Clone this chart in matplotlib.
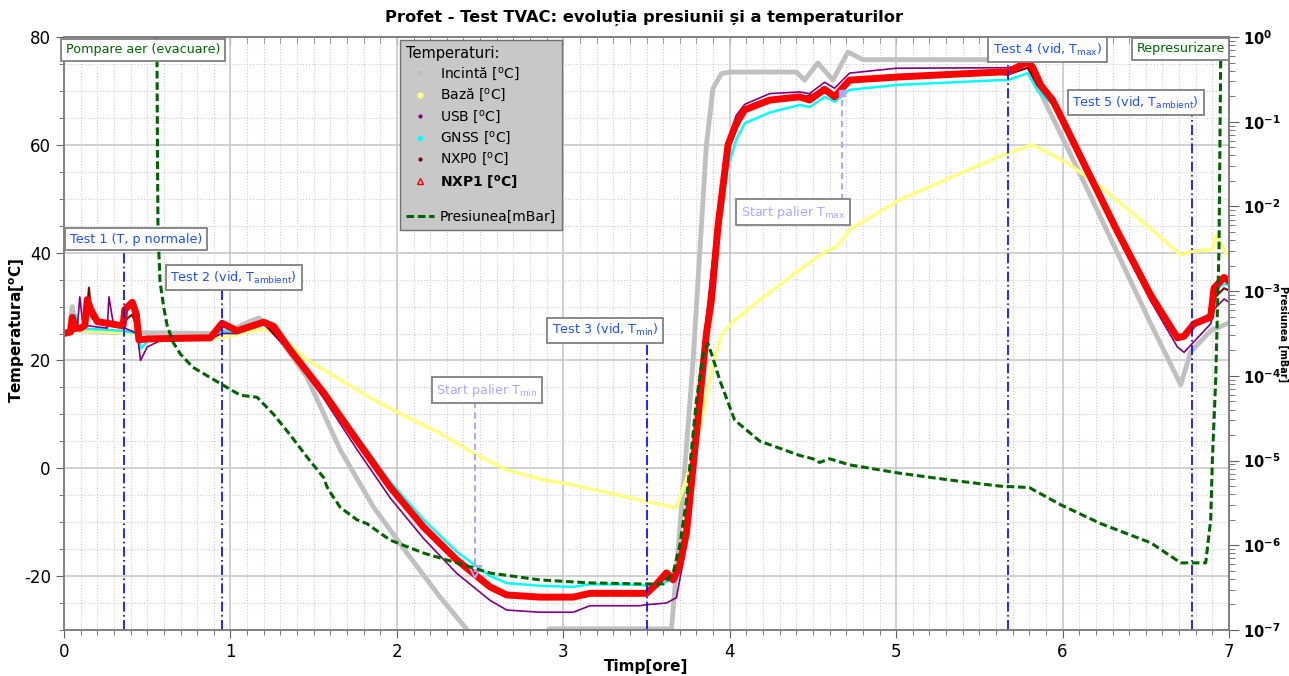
import numpy as np
import matplotlib.pyplot as plt
from matplotlib.lines import Line2D
from matplotlib.ticker import MultipleLocator, LogLocator, FixedLocator, FixedFormatter, NullFormatter

plt.rcParams['mathtext.default'] = 'regular'
plt.rcParams['axes.unicode_minus'] = False
plt.rcParams['font.family'] = ['DejaVu Sans']

# Incintă
t_inc = [0, 0.03, 0.05, 0.07, 0.1, 0.3, 0.88, 1.0, 1.1, 1.17, 1.26, 1.46, 1.66, 1.86, 2.06,
         2.26, 2.44, 2.6, 2.8, 2.92, 3.65, 3.69, 3.73, 3.78, 3.82, 3.86, 3.9, 3.95, 4.0, 4.4,
         4.45, 4.53, 4.62, 4.71, 4.8, 5.78, 5.88, 6.13, 6.33, 6.53, 6.71, 6.77, 6.89, 7.0]
T_inc = [25, 25.5, 30, 26, 25.5, 25.2, 25, 25.5, 27, 27.9, 25.6, 16.9, 3.4, -7.2, -15.7,
         -23.9, -30.6, -32.5, -32, -29.8, -29.8, -15, 0, 20, 40, 60, 70.5, 73.2, 73.5, 73.5,
         72, 75.2, 72, 77.2, 75.8, 75.8, 68.9, 53, 39.9, 26.8, 15.5, 21.6, 25.5, 27]

# Bază
t_baza = [0, 0.04, 0.07, 0.1, 0.44, 0.47, 0.9, 1.0, 1.1, 1.2, 1.3, 1.46, 1.66, 1.86, 2.06,
          2.26, 2.46, 2.66, 2.86, 3.06, 3.26, 3.46, 3.6, 3.68, 3.74, 3.82, 3.89, 3.95, 4.03,
          4.18, 4.42, 4.5, 4.58, 4.64, 4.72, 5.02, 5.43, 5.67, 5.82, 6.03, 6.23, 6.42, 6.71,
          6.79, 6.9, 6.92, 7.0]
T_baza = [25, 25.5, 28, 25.5, 25, 24, 24.2, 24.5, 25.3, 25.8, 24.5, 20.1, 16.4, 12.7, 9.5,
          6.5, 2.8, -0.3, -2.0, -3.1, -4.5, -5.9, -6.8, -7.3, -2, 7.1, 18.2, 24.7, 27.5,
          31.2, 36.8, 38.6, 40.3, 41, 44.2, 49.8, 55.3, 58.5, 60, 56.6, 52.2, 47.3, 39.6,
          40.3, 40.6, 43.2, 39]

# USB
t_usb = [0, 0.05, 0.08, 0.095, 0.11, 0.13, 0.2, 0.26, 0.27, 0.29, 0.3, 0.35, 0.44, 0.46,
         0.5, 0.6, 0.88, 0.95, 1.04, 1.2, 1.36, 1.56, 1.76, 1.96, 2.16, 2.36, 2.56, 2.66,
         2.86, 3.06, 3.16, 3.46, 3.5, 3.62, 3.68, 3.74, 3.8, 3.86, 3.93, 3.99, 4.04, 4.09,
         4.24, 4.42, 4.48, 4.57, 4.63, 4.72, 5.0, 5.62, 5.67, 5.79, 5.85, 5.94, 6.0, 6.13,
         6.33, 6.53, 6.69, 6.73, 6.79, 6.89, 6.91, 6.97, 7.0]
T_usb = [25, 25.5, 26, 31.8, 27.5, 26.5, 26.2, 26, 31.8, 28, 26.5, 26.2, 25, 20, 22.5, 24,
         24, 25, 25, 26.8, 21.5, 13, 3.5, -5.5, -13, -19.5, -24.5, -26.3, -26.7, -26.7,
         -25.5, -25.5, -25.3, -25, -24, -14, 5, 28, 48, 61, 65.5, 67.5, 69.5, 69.8, 69.5,
         71.6, 70.5, 73.3, 74.2, 74.3, 74.3, 74.8, 71, 67.5, 64, 55.5, 43, 31, 22.5, 21.5,
         23.5, 26.8, 29.5, 31.4, 30.8]

# GNSS
t_gnss = [0, 0.05, 0.07, 0.09, 0.12, 0.2, 0.35, 0.44, 0.46, 0.5, 0.6, 0.88, 0.95, 1.04,
          1.2, 1.36, 1.56, 1.76, 1.96, 2.16, 2.36, 2.56, 2.66, 2.86, 3.06, 3.16, 3.46, 3.5,
          3.6, 3.66, 3.74, 3.8, 3.86, 3.93, 3.99, 4.04, 4.09, 4.24, 4.42, 4.48, 4.57, 4.63,
          4.72, 5.0, 5.62, 5.67, 5.79, 5.85, 5.94, 6.0, 6.13, 6.33, 6.53, 6.69, 6.73, 6.79,
          6.89, 6.91, 6.97, 7.0]
T_gnss = [25, 25.5, 28.5, 26, 25.8, 25.8, 25.5, 25, 22.2, 23.5, 24, 24, 25.5, 25, 26.8,
          22.2, 14.5, 6, -2.5, -9.5, -15.5, -20, -21.3, -21.8, -22, -21.5, -21.6, -21.8,
          -21.3, -20.5, -12, 6.5, 25, 42, 56, 61, 64, 66, 67.4, 67, 68.9, 68, 70.2, 71.1, 72,
          72, 73.3, 70, 67.5, 64.5, 56.5, 44.3, 32.6, 24.9, 24.6, 27, 28.8, 33, 34.2, 34]

# NXP0
t_nxp0 = [0, 0.05, 0.1, 0.13, 0.15, 0.165, 0.2, 0.3, 0.355, 0.38, 0.41, 0.44, 0.46, 0.5,
          0.88, 0.95, 1.04, 1.2, 1.36, 1.56, 1.76, 1.96, 2.16, 2.36, 2.56, 2.66, 2.86, 3.06,
          3.16, 3.46, 3.5, 3.6, 3.66, 3.74, 3.8, 3.86, 3.93, 3.99, 4.09, 4.24, 4.42, 4.57,
          4.63, 4.72, 5.02, 5.62, 5.67, 5.79, 5.85, 5.94, 6.0, 6.13, 6.33, 6.53, 6.69, 6.73,
          6.79, 6.89, 6.91, 6.97, 7.0]
T_nxp0 = [25, 25.3, 26, 26.5, 33.5, 28, 27, 26.7, 26.4, 27.8, 28.5, 26, 24, 24, 24.2,
          26.5, 25.4, 27, 21.8, 13.8, 5, -3.7, -11.1, -17.2, -22.2, -23.7, -24.1, -24.1,
          -23.4, -23.4, -23.2, -20.5, -20.8, -12.2, 6.2, 24.7, 45, 59.5, 66.2, 68, 68.6,
          70, 68.6, 71.7, 72.3, 73.2, 73.0, 74.3, 71, 68, 64.3, 56.1, 43.6, 31.8, 23.9,
          24.2, 26.5, 27.6, 31.5, 33.4, 33]

# NXP1
t_nxp1 = [0, 0.04, 0.05, 0.07, 0.1, 0.125, 0.14, 0.16, 0.2, 0.28, 0.355, 0.365, 0.41,
          0.435, 0.45, 0.5, 0.88, 0.95, 1.04, 1.2, 1.26, 1.36, 1.56, 1.76, 1.96, 2.16, 2.36,
          2.56, 2.66, 2.86, 3.06, 3.16, 3.46, 3.5, 3.56, 3.62, 3.66, 3.7, 3.74, 3.8, 3.86,
          3.89, 3.93, 3.99, 4.04, 4.09, 4.24, 4.42, 4.48, 4.57, 4.63, 4.72, 5.02, 5.62,
          5.67, 5.79, 5.82, 5.87, 5.94, 6.0, 6.13, 6.33, 6.53, 6.69, 6.73, 6.79, 6.89,
          6.91, 6.97, 7.0]
T_nxp1 = [25, 25.3, 28, 26, 26, 26.5, 31.3, 29.5, 27.2, 26.8, 26.4, 29.4, 30.8, 28.5,
          23.8, 24.0, 24.2, 26.9, 25.5, 27.1, 26.3, 21.9, 14, 5.2, -3.5, -10.9, -17, -22,
          -23.5, -23.9, -23.9, -23.2, -23.2, -23.2, -21.5, -19.4, -20.7, -18, -12, 6.5, 25,
          31.2, 45, 60, 64, 66.5, 68.3, 68.9, 68.3, 70.3, 68.9, 72, 72.6, 73.5, 73.5, 75.4,
          74.4, 71, 68.3, 64.6, 56.4, 43.9, 32.1, 24.2, 24.5, 26.8, 28.1, 33.4, 35.4, 34.7]

# Presiunea [mBar]
t_pres = [0.553, 0.559, 0.562, 0.565, 0.577, 0.6, 0.619, 0.655, 0.7, 0.775, 0.94, 1.06,
          1.16, 1.26, 1.36, 1.46, 1.56, 1.58, 1.6, 1.66, 1.76, 1.82, 1.96, 2.16, 2.36,
          2.56, 2.86, 3.16, 3.46, 3.6, 3.66, 3.7, 3.74, 3.8, 3.84, 3.87, 3.9, 3.94, 4.03,
          4.18, 4.42, 4.5, 4.54, 4.6, 4.72, 5.02, 5.32, 5.62, 5.8, 5.99, 6.23, 6.53, 6.71,
          6.86, 6.89, 6.9, 6.92, 6.94, 6.95]
p_pres = [1.0, 0.5, 3.2e-2, 5.0e-3, 1.3e-3, 6.3e-4, 4.0e-4, 2.5e-4, 1.8e-4, 1.26e-4,
          8.1e-5, 5.9e-5, 5.6e-5, 3.5e-5, 2.0e-5, 1.1e-5, 6.3e-6, 4.9e-6, 4.2e-6, 2.8e-6,
          2.0e-6, 1.8e-6, 1.15e-6, 8.1e-7, 6.2e-7, 4.7e-7, 3.9e-7, 3.6e-7, 3.5e-7, 3.5e-7,
          4.7e-7, 1.0e-6, 3.4e-6, 5.1e-5, 1.8e-4, 2.4e-4, 1.6e-4, 8.9e-5, 3.0e-5, 1.7e-5,
          1.15e-5, 1.05e-5, 9.5e-6, 1.05e-5, 8.9e-6, 7.1e-6, 5.9e-6, 5.0e-6, 4.8e-6,
          3.0e-6, 1.8e-6, 1.07e-6, 6.2e-7, 6.2e-7, 2.0e-6, 1.0e-5, 8.9e-5, 3.2e-3, 0.54]

# marcaje: (ora, capat sus [ºC])
teste = [(0.36, 40.5), (0.95, 33.1), (3.50, 23.4), (5.67, 75.4), (6.78, 65.5)]
paliere = [(2.47, 12.3, -19.3), (4.675, 49.8, 69.6)]
etichete = [
    (0.475, 77.6, 'Pompare aer (evacuare)', '#006400'),
    (0.433, 42.5, 'Test 1 (T, p normale)', '#1f4fff'),
    (1.02, 35.3, 'Test 2 (vid, T$_{ambient}$)', '#1f4fff'),
    (2.54, 14.5, 'Start palier T$_{min}$', '#a8a8ff'),
    (3.25, 25.6, 'Test 3 (vid, T$_{min}$)', '#1f4fff'),
    (4.38, 47.5, 'Start palier T$_{max}$', '#a8a8ff'),
    (5.91, 77.6, 'Test 4 (vid, T$_{max}$)', '#1f4fff'),
    (6.44, 67.8, 'Test 5 (vid, T$_{ambient}$)', '#1f4fff'),
    (6.71, 77.8, 'Represurizare', '#006400'),
]

fig = plt.figure(figsize=(12.89, 6.76), dpi=100)
ax1 = fig.add_axes([64 / 1289, 46 / 676, 1165 / 1289, 593 / 676])

ax1.plot(t_inc, T_inc, color='#c0c0c0', lw=3.5, zorder=2)
ax1.plot(t_baza, T_baza, color='#ffff80', lw=2.5, zorder=2)
ax1.plot(t_gnss, T_gnss, color='#00ffff', lw=1.8, zorder=2)
ax1.plot(t_usb, T_usb, color='#800080', lw=1.2, zorder=2)
ax1.plot(t_nxp0, T_nxp0, color='#800000', lw=1.5, zorder=2)
ax1.plot(t_nxp1, T_nxp1, color='#ff0000', lw=5, zorder=3)

for x, top in teste:
    ax1.plot([x, x], [-30, top], color='#0000ff', lw=1.2, ls=(0, (6, 2, 1, 2)), zorder=5)
for x, y0, y1 in paliere:
    ax1.plot([x, x], [y0, y1], color='#a8a8ff', lw=1.5, ls=(0, (3, 2)), zorder=5)
ax1.plot(paliere[0][0], paliere[0][2], marker='v', ms=9, mfc='none', mec='#a8a8ff', mew=1.5, zorder=6)
ax1.plot(paliere[1][0], paliere[1][2], marker='s', ms=4, color='#a8a8ff', zorder=6)

ax1.set_xlim(0, 7)
ax1.set_ylim(-30, 80)
ax1.xaxis.set_major_locator(MultipleLocator(1))
ax1.xaxis.set_minor_locator(MultipleLocator(0.1))
ax1.yaxis.set_major_locator(MultipleLocator(20))
ax1.yaxis.set_minor_locator(MultipleLocator(5))
ax1.grid(which='major', color='#c8c8c8', lw=1.2, ls='-')
ax1.grid(which='minor', color='#cccccc', lw=0.8, ls=':')
ax1.set_axisbelow(True)
ax1.tick_params(which='major', direction='out', length=6, labelsize=12, color='#606060')
ax1.tick_params(which='minor', direction='out', length=3.5, color='#606060')

top = ax1.secondary_xaxis('top')
top.xaxis.set_major_locator(MultipleLocator(1))
top.xaxis.set_minor_locator(MultipleLocator(0.1))
top.tick_params(which='major', direction='in', length=6, labeltop=False, color='#606060')
top.tick_params(which='minor', direction='in', length=4, color='#606060')
top.spines['top'].set_color('#808080')

ax2 = ax1.twinx()
ax2.plot(t_pres, p_pres, color='#006400', lw=2.2, ls=(0, (2.5, 1.2)))
ax2.set_yscale('log')
ax2.set_ylim(1e-7, 1)
dec = [1e-7, 1e-6, 1e-5, 1e-4, 1e-3, 1e-2, 1e-1, 1e0]
ax2.yaxis.set_major_locator(FixedLocator(dec))
ax2.yaxis.set_major_formatter(FixedFormatter([r'$\mathbf{10^{%d}}$' % k for k in range(-7, 1)]))
ax2.yaxis.set_minor_locator(LogLocator(base=10, subs=np.arange(2, 10)))
ax2.yaxis.set_minor_formatter(NullFormatter())
ax2.tick_params(which='major', direction='out', length=7, labelsize=10.5, pad=3, color='#606060')
ax2.tick_params(which='minor', direction='out', length=4, color='#606060')

for a in (ax1, ax2):
    for s in a.spines.values():
        s.set_color('#808080')
        s.set_linewidth(1.2)

for x, y, s, c in etichete:
    ax2.text(x, y, s, transform=ax1.transData, ha='center', va='center', fontsize=9.2,
             color=c, zorder=10,
             bbox=dict(boxstyle='square,pad=0.35', fc='white', ec='#808080', lw=1.3))

handles = [
    Line2D([], [], ls='none', marker='o', ms=3, color='#c0c0c0'),
    Line2D([], [], ls='none', marker='o', ms=3.5, color='#ffff80'),
    Line2D([], [], ls='none', marker='o', ms=2, color='#800080'),
    Line2D([], [], ls='none', marker='o', ms=3, color='#00ffff'),
    Line2D([], [], ls='none', marker='o', ms=2, color='#800000'),
    Line2D([], [], ls='none', marker='^', ms=5, mfc='none', mec='#ff0000'),
    Line2D([], [], ls='none'),
    Line2D([], [], color='#006400', lw=2.2, ls=(0, (2.5, 1.2))),
]
labels = ['Incintă [$^{o}$C]', 'Bază [$^{o}$C]', 'USB [$^{o}$C]', 'GNSS [$^{o}$C]',
          'NXP0 [$^{o}$C]', 'NXP1 [$^{o}$C]', ' ', 'Presiunea[mBar]']
leg = ax2.legend(handles, labels, title='Temperaturi:', loc='upper left',
                 bbox_to_anchor=(400 / 1289, 1 - 40 / 676), bbox_transform=fig.transFigure,
                 fancybox=False, fontsize=10, title_fontsize=10.5, alignment='left',
                 handlelength=2, handletextpad=0.4, borderpad=0.45, labelspacing=0.3,
                 borderaxespad=0, framealpha=1)
leg.get_frame().set_facecolor('#c8c8c8')
leg.get_frame().set_edgecolor('#707070')
leg.get_texts()[5].set_fontweight('bold')
leg.get_texts()[6].set_fontsize(3)
leg.set_zorder(20)

fig.text(0.5, 1 - 18 / 676, 'Profet - Test TVAC: evoluția presiunii și a temperaturilor',
         ha='center', va='center', fontsize=11.7, fontweight='bold')
fig.text(646 / 1289, 1 - 667 / 676, 'Timp[ore]', ha='center', va='center', fontsize=11,
         fontweight='bold')
fig.text(17 / 1289, 1 - 330 / 676, r'Temperatura[$^{\mathbf{o}}$C]', rotation=90,
         ha='center', va='center', fontsize=11, fontweight='bold')
fig.text(1283 / 1289, 1 - 334 / 676, 'Presiunea [mBar]', rotation=270, ha='center',
         va='center', fontsize=7, fontweight='bold')

fig.savefig('out.png', dpi=100)
